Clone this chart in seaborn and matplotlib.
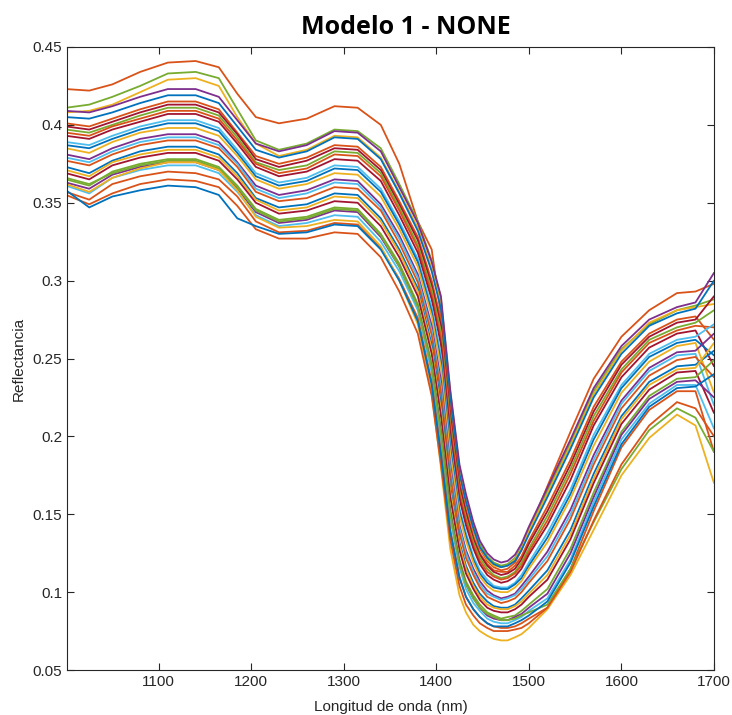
import matplotlib
matplotlib.use("Agg")
import matplotlib.pyplot as plt
import seaborn as sns
import pandas as pd

# Wavelengths (nm) at which the spectra were read
longitud = [1000, 1025, 1050, 1080, 1110, 1140, 1165, 1185, 1205, 1230, 1260, 1290, 1315,
            1340, 1360, 1380, 1395, 1405,
            1415, 1425, 1432, 1440, 1447, 1455, 1462, 1470, 1477, 1485, 1492, 1500,
            1520, 1545, 1570, 1600, 1630, 1660, 1680, 1700]

# Reflectance spectra
s_top = [.423, .422, .426, .434, .440, .441, .437, .420, .405, .401, .404, .412, .411, .400, .375, .338, .320, .278,
         .225, .178, .158, .140, .128, .120, .116, .114, .115, .119, .127, .139,
         .168, .203, .237, .264, .281, .292, .293, .298]
s_grn = [.411, .413, .418, .425, .433, .434, .430, .410, .390, .384, .388, .397, .396, .385, .362, .338, .313, .288,
         .229, .180, .161, .143, .131, .123, .119, .117, .118, .122, .129, .140,
         .165, .196, .229, .256, .272, .281, .284, .288]
s_yel = [.408, .409, .413, .421, .429, .430, .425, .405, .388, .380, .384, .393, .392, .379, .357, .334, .308, .284,
         .225, .177, .158, .140, .129, .121, .117, .116, .117, .121, .128, .139,
         .163, .194, .227, .255, .273, .281, .283, .285]
s_T = [.409, .408, .412, .418, .423, .423, .418, .403, .388, .383, .387, .396, .395, .383, .360, .337, .312, .290,
       .230, .182, .163, .145, .133, .125, .121, .119, .120, .124, .131, .142,
       .167, .198, .231, .258, .275, .283, .286, .305]
s_k1 = [.405, .404, .408, .414, .419, .419, .414, .399, .384, .379, .383, .392, .391, .378, .356, .332, .306, .282,
        .223, .176, .158, .141, .129, .122, .118, .116, .117, .120, .127, .137,
        .161, .192, .225, .253, .271, .279, .282, .300]
s_k2 = [.401, .399, .404, .410, .415, .415, .410, .395, .380, .375, .379, .387, .386, .373, .351, .328, .300, .275,
        .216, .171, .153, .136, .125, .118, .114, .113, .113, .117, .123, .133,
        .155, .185, .219, .248, .266, .275, .277, .262]
s_h1 = [.399, .397, .402, .408, .413, .413, .408, .394, .378, .373, .377, .385, .384, .371, .349, .326, .297, .271,
        .213, .168, .151, .134, .124, .117, .113, .111, .112, .115, .121, .131,
        .152, .182, .216, .246, .264, .273, .275, .290]
s_k3 = [.397, .395, .400, .406, .411, .411, .406, .392, .376, .371, .374, .383, .382, .369, .347, .323, .294, .267,
        .209, .165, .148, .132, .122, .115, .111, .109, .110, .113, .119, .128,
        .149, .179, .213, .243, .262, .270, .273, .281]
s_h6 = [.395, .393, .399, .404, .409, .409, .404, .390, .375, .369, .372, .381, .380, .367, .345, .321, .291, .263,
        .206, .163, .146, .130, .120, .113, .110, .108, .109, .112, .117, .126,
        .146, .176, .210, .241, .260, .268, .271, .270]
s_k4 = [.393, .391, .397, .402, .407, .407, .402, .388, .373, .367, .370, .378, .377, .364, .342, .318, .288, .259,
        .202, .160, .143, .128, .118, .111, .108, .106, .107, .110, .115, .124,
        .143, .172, .207, .238, .257, .266, .268, .245]
s_k5 = [.389, .387, .393, .399, .403, .403, .398, .384, .369, .363, .366, .374, .373, .359, .338, .314, .283, .252,
        .196, .154, .138, .123, .114, .108, .104, .103, .103, .106, .111, .119,
        .138, .166, .201, .233, .253, .262, .264, .272]
s_h2 = [.387, .385, .391, .397, .401, .401, .396, .382, .367, .361, .364, .372, .371, .357, .336, .312, .280, .248,
        .193, .152, .136, .121, .112, .106, .103, .102, .102, .105, .109, .117,
        .135, .163, .198, .231, .251, .260, .262, .252]
s_k6 = [.385, .382, .389, .395, .398, .398, .393, .380, .365, .359, .362, .369, .368, .354, .333, .309, .277, .244,
        .189, .149, .133, .119, .110, .104, .101, .100, .100, .103, .107, .115,
        .132, .160, .194, .228, .248, .258, .260, .228]
s_k7 = [.381, .378, .385, .391, .394, .394, .389, .376, .361, .355, .358, .365, .364, .349, .329, .304, .271, .236,
        .182, .143, .127, .115, .107, .101, .098, .096, .097, .099, .104, .110,
        .126, .153, .188, .223, .244, .254, .255, .266]
s_h3 = [.379, .376, .383, .389, .392, .392, .387, .375, .359, .353, .356, .363, .362, .347, .327, .302, .268, .232,
        .179, .141, .125, .113, .105, .099, .097, .095, .096, .098, .102, .108,
        .123, .150, .185, .221, .242, .252, .253, .220]
s_k8 = [.377, .374, .381, .387, .390, .390, .385, .373, .357, .351, .353, .360, .359, .345, .324, .299, .265, .228,
        .175, .138, .122, .111, .103, .097, .095, .093, .094, .096, .100, .106,
        .120, .147, .182, .218, .239, .249, .251, .238]
s_k9 = [.373, .369, .377, .383, .386, .386, .381, .369, .353, .347, .349, .356, .355, .340, .320, .295, .259, .221,
        .168, .132, .117, .106, .099, .094, .091, .090, .090, .092, .096, .101,
        .114, .140, .176, .213, .235, .245, .246, .255]
s_h4 = [.371, .367, .376, .381, .384, .384, .379, .367, .352, .345, .347, .354, .353, .338, .318, .293, .256, .217,
        .165, .130, .115, .104, .097, .092, .090, .089, .089, .091, .094, .099,
        .111, .137, .173, .211, .233, .243, .244, .260]
s_k10 = [.369, .365, .374, .379, .382, .382, .377, .365, .350, .343, .345, .351, .350, .335, .315, .290, .253, .213,
         .161, .127, .112, .102, .095, .090, .088, .087, .087, .089, .092, .097,
         .108, .134, .170, .208, .230, .241, .242, .215]
s_k11 = [.365, .361, .370, .375, .378, .378, .373, .361, .346, .339, .341, .347, .346, .330, .311, .285, .247, .205,
         .154, .121, .107, .098, .092, .087, .085, .083, .084, .085, .088, .092,
         .102, .128, .164, .203, .226, .237, .238, .249]
s_h5 = [.363, .359, .368, .373, .376, .376, .371, .359, .344, .337, .339, .345, .344, .328, .309, .283, .244, .202,
        .151, .119, .105, .096, .090, .085, .083, .082, .082, .084, .086, .090,
        .099, .125, .161, .201, .224, .235, .236, .225]
s_k12 = [.361, .356, .366, .371, .374, .374, .369, .357, .342, .335, .337, .342, .341, .325, .306, .281, .241, .198,
         .147, .116, .102, .093, .088, .083, .081, .080, .080, .082, .084, .088,
         .096, .121, .158, .198, .221, .233, .233, .205]
s_B = [.357, .352, .362, .367, .370, .369, .365, .354, .338, .331, .332, .337, .336, .321, .301, .276, .235, .190,
       .140, .110, .097, .089, .084, .080, .078, .077, .077, .078, .080, .083,
       .090, .115, .152, .193, .217, .229, .229, .190]
s_glow = [.366, .362, .369, .374, .377, .377, .372, .360, .345, .338, .340, .346, .345, .329, .309, .283, .244, .201,
          .150, .118, .105, .096, .090, .086, .084, .082, .082, .083, .085, .087,
          .092, .115, .145, .179, .204, .218, .212, .190]
s_ylow = [.362, .357, .366, .372, .376, .376, .371, .358, .341, .334, .335, .339, .338, .322, .300, .272, .228, .180,
          .128, .098, .087, .079, .075, .072, .070, .069, .069, .071, .073, .077,
          .089, .111, .140, .175, .199, .214, .207, .170]
s_olow = [.355, .349, .356, .362, .365, .364, .360, .348, .333, .327, .327, .331, .330, .315, .293, .266, .226, .182,
          .134, .104, .092, .085, .080, .077, .075, .075, .075, .076, .077, .080,
          .090, .113, .146, .182, .207, .222, .218, .200]
s_blue = [.358, .347, .354, .358, .361, .360, .355, .340, .335, .330, .331, .336, .335, .320, .300, .274, .233, .188,
          .139, .109, .097, .089, .084, .080, .078, .078, .078, .080, .082, .085,
          .094, .119, .155, .195, .219, .231, .232, .240]

espectros = [s_top, s_grn, s_yel, s_T, s_k1, s_k2, s_h1, s_k3, s_h6, s_k4, s_k5, s_h2, s_k6,
             s_k7, s_h3, s_k8, s_k9, s_h4, s_k10, s_k11, s_h5, s_k12, s_B,
             s_glow, s_ylow, s_olow, s_blue]
colores = ['#D95319', '#77AC30', '#EDB120', '#7E2F8E', '#0072BD', '#D95319', '#A2142F',
           '#77AC30', '#D95319', '#A2142F', '#4DBEEE', '#0072BD', '#EDB120', '#7E2F8E',
           '#4DBEEE', '#D95319', '#0072BD', '#EDB120', '#A2142F', '#77AC30', '#7E2F8E',
           '#4DBEEE', '#D95319', '#77AC30', '#EDB120', '#D95319', '#0072BD']

xticks = [1100, 1200, 1300, 1400, 1500, 1600, 1700]
yticks = [0.05, 0.1, 0.15, 0.2, 0.25, 0.3, 0.35, 0.4, 0.45]
ytick_labels = ['0.05', '0.1', '0.15', '0.2', '0.25', '0.3', '0.35', '0.4', '0.45']

rows = []
for i, s in enumerate(espectros):
    for w, v in zip(longitud, s):
        rows.append({'muestra': f'm{i:02d}', 'nm': w, 'refl': v})
df = pd.DataFrame(rows)
palette = {f'm{i:02d}': c for i, c in enumerate(colores)}

sns.set_theme(style='white')
plt.rcParams['font.family'] = ['Liberation Sans', 'DejaVu Sans']

fig = plt.figure(figsize=(7.32, 7.15), dpi=100)
ax = fig.add_axes([67/732, 1 - 670/715, (714-67)/732, (670-47)/715])

sns.lineplot(data=df, x='nm', y='refl', hue='muestra', palette=palette,
             estimator=None, sort=False, legend=False, linewidth=1.3, ax=ax)

ax.set_xlim(1001, 1700)
ax.set_ylim(0.05, 0.45)
ax.set_xticks(xticks)
ax.set_xticklabels([str(t) for t in xticks])
ax.set_yticks(yticks)
ax.set_yticklabels(ytick_labels)
ax.tick_params(direction='in', length=5, width=0.8, colors='#262626', labelsize=11,
               top=True, right=True, bottom=True, left=True)
for sp in ax.spines.values():
    sp.set_color('#262626')
    sp.set_linewidth(0.8)
ax.set_xlabel('Longitud de onda (nm)', fontsize=11, color='#262626', labelpad=8)
ax.set_ylabel('Reflectancia', fontsize=11, color='#262626', labelpad=5)

fig.text(406/732, 1 - 27/715, 'Modelo 1 - NONE', ha='center', va='center',
         fontsize=18, fontweight='bold', family=['Open Sans', 'DejaVu Sans'], color='black')

fig.savefig('out.png', dpi=100)
